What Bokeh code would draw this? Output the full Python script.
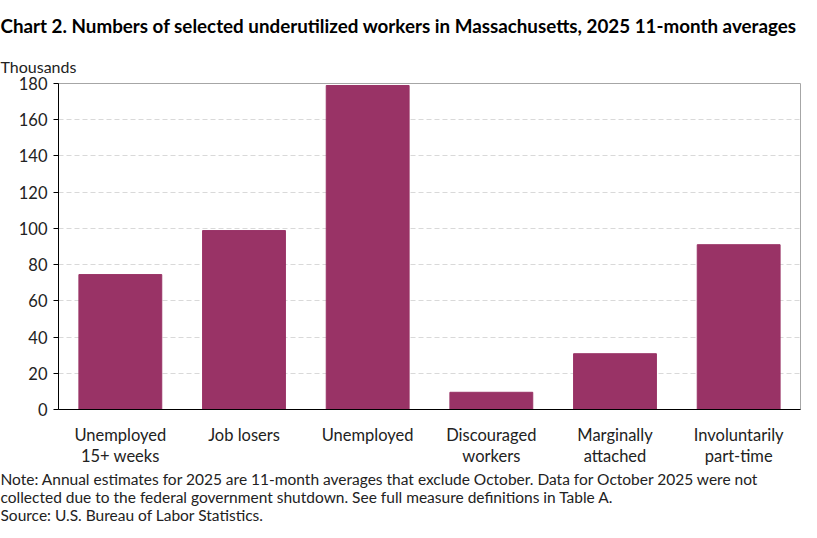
from bokeh.plotting import figure
from bokeh.models import Title, Range1d, FixedTicker, LinearAxis
from bokeh.embed import file_html
from bokeh.resources import INLINE

categories = ["Unemployed 15+ weeks", "Job losers", "Unemployed",
              "Discouraged workers", "Marginally attached", "Involuntarily part-time"]
label_line1 = ["Unemployed", "Job losers", "Unemployed", "Discouraged", "Marginally", "Involuntarily"]
label_line2 = ["15+ weeks", "", "", "workers", "attached", "part-time"]
values = [74.5, 98.8, 178.9, 9.5, 30.8, 91.0]
y_ticks = [0, 20, 40, 60, 80, 100, 120, 140, 160, 180]

title_text = "Chart 2. Numbers of selected underutilized workers in Massachusetts, 2025 11-month averages"
y_unit_text = "Thousands"
note_lines = [
    "Note: Annual estimates for 2025 are 11-month averages that exclude October. Data for October 2025 were not",
    "collected due to the federal government shutdown. See full measure definitions in Table A.",
    "Source: U.S. Bureau of Labor Statistics.",
]

FONT = "Lato"
BAR = "#993366"
TXT = "#222222"

positions = list(range(len(categories)))

p = figure(width=801, height=522, x_range=Range1d(-0.5, len(categories) - 0.5),
           y_range=Range1d(0, 180), output_backend="svg", toolbar_location=None,
           min_border_left=58, min_border_right=1, min_border_top=0, min_border_bottom=0)
p.title.visible = False

p.vbar(x=positions, top=values, width=0.67, color=BAR)

p.outline_line_color = "#a6a6a6"
p.outline_line_width = 1

yax = p.yaxis[0]
yax.ticker = FixedTicker(ticks=y_ticks)
yax.axis_line_color = "black"
yax.major_tick_line_color = "black"
yax.major_tick_in = 0
yax.major_tick_out = 5
yax.minor_tick_line_color = None
yax.major_label_text_font = FONT
yax.major_label_text_font_size = "16.5px"
yax.major_label_text_color = TXT
yax.major_label_standoff = 6

xax = p.xaxis[0]
xax.ticker = FixedTicker(ticks=positions)
xax.axis_line_color = "black"
xax.major_tick_line_color = None
xax.minor_tick_line_color = None
xax.major_label_overrides = dict(zip(positions, label_line1))
xax.major_label_text_font = FONT
xax.major_label_text_font_size = "16.5px"
xax.major_label_text_color = TXT
xax.major_label_standoff = 9

xax2 = LinearAxis(ticker=FixedTicker(ticks=positions), axis_line_color=None,
                  major_tick_line_color=None, minor_tick_line_color=None,
                  major_label_overrides=dict(zip(positions, label_line2)),
                  major_label_text_font=FONT, major_label_text_font_size="16.5px",
                  major_label_text_color=TXT, major_label_standoff=-8)
p.add_layout(xax2, "below")

p.xgrid.grid_line_color = None
p.ygrid.grid_line_color = "#d9d9d9"
p.ygrid.grid_line_dash = "5 3"

# text above, first added is closest to the frame
p.add_layout(Title(text=y_unit_text, align="left", offset=-58, text_font=FONT,
                   text_font_size="16px", text_font_style="normal", text_color=TXT,
                   standoff=15), "above")
p.add_layout(Title(text=title_text, align="left", offset=-58, text_font=FONT,
                   text_font_size="18.8px", text_font_style="bold", text_color="black",
                   standoff=22), "above")

for line in note_lines:
    p.add_layout(Title(text=line, align="left", offset=-58, text_font=FONT,
                       text_font_size="15.5px", text_font_style="normal", text_color=TXT,
                       standoff=-2), "below")

open("out.html", "w").write(file_html(p, INLINE))
